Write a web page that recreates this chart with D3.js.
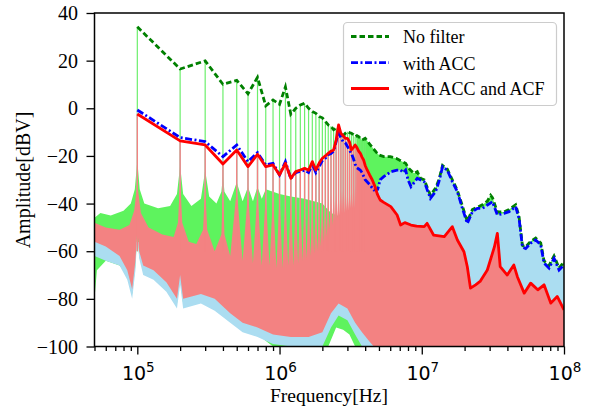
<!DOCTYPE html>
<html><head><meta charset="utf-8">
<script src="https://cdn.jsdelivr.net/npm/d3@7"></script>
<style>body{margin:0;background:#fff}</style>
</head><body>
<svg id="c" width="594" height="407"></svg>
<script>
// ---------- DATA (frequency in MHz, amplitude in dBV) ----------
const harmonicsMHz = [0.1,0.2,0.3,0.4,0.5,0.6,0.7,0.8,0.9,1.0,1.1,1.2,1.3,1.4,1.5,1.6,1.7,1.8,1.9,2.0,
  2.1,2.2,2.3,2.4,2.5,2.6,2.7,2.8,2.9,3.0,3.1,3.2,3.3,3.4,3.5,3.6,3.7,3.8,3.9,4.0];

// harmonic peak levels (envelope)
const noFilterPeaks = [34.2,16.5,19.9,10.1,11.7,6.1,13.0,1.0,3.5,1.7,9.0,-2.5,0.0,1.4,2.1,0.0,-1.4,-2.1,-3.5,-4.0,
  -5.5,-7.0,-7.5,-9.0,-8.4,-10.0,-11.9,-11.5,-10.5,-9.8,-10.2,-10.5,-11.0,-11.9,-11.5,-11.9,-12.6,-13.3,-13.0,-12.6];
const accPeaks = [-0.7,-12.3,-14.0,-20.3,-15.4,-22.4,-18.6,-23.8,-23.1,-28.0,-22.4,-29.5,-27.0,-26.5,-26.0,-27.0,-23.5,-27.0,-24.5,-22.0,
  -21.0,-19.5,-19.0,-18.0,-14.0,-9.5,-12.5,-14.0,-14.5,-16.0,-17.5,-19.0,-21.0,-23.5,-25.0,-25.5,-26.0,-27.0,-28.5,-30.0];
const accAcfPeaks = [-2.4,-13.7,-15.4,-23.4,-17.5,-24.5,-19.3,-24.5,-23.8,-28.0,-23.1,-29.4,-26.6,-25.9,-25.2,-26.0,-22.4,-25.9,-23.0,-21.0,
  -20.0,-18.9,-18.0,-17.5,-13.3,-7.0,-10.5,-11.5,-12.6,-12.6,-14.0,-17.5,-16.5,-15.4,-16.5,-18.0,-18.9,-20.5,-21.7,-24.0];

// broadband envelope above 4 MHz
const noFilterHF = [[4.3,-15.0],[4.5,-16.5],[4.8,-18.5],[5.0,-19.6],[5.4,-20.3],[6.0,-20.3],[6.6,-21.0],[7.1,-22.0],[7.7,-23.1],
  [8.1,-25.2],[8.8,-27.3],[9.3,-26.6],[9.8,-29.4],[10.4,-30.0],[11.5,-36.5],[12.5,-33.5],[13.2,-30.0],[14.0,-24.0],[15.1,-25.5],
  [16.4,-30.0],[17.8,-34.5],[19.3,-41.0],[20.9,-47.5],[22.7,-42.5],[24.6,-41.5],[26.7,-40.5],[28.9,-39.0],[30.5,-36.5],[31.4,-37.5],
  [34.0,-43.5],[37.9,-43.5],[41.1,-42.5],[45.7,-40.5],[48.3,-45.5],[51.0,-57.5],[53.8,-58.2],[58.3,-55.8],[63.2,-54.5],[68.6,-56.5],
  [72.4,-64.0],[78.5,-66.0],[85.1,-62.0],[92.3,-67.0],[100,-64.5]];
const accHF = [[4.3,-32.0],[4.6,-34.3],[4.9,-34.0],[5.1,-30.0],[5.4,-28.7],[6.1,-26.6],[6.7,-26.0],[7.1,-25.9],[7.4,-27.0],[7.7,-25.9],
  [8.0,-30.0],[8.4,-32.9],[9.3,-29.4],[10.4,-30.8],[11.5,-37.8],[12.5,-35.0],[13.2,-30.8],[14.0,-24.5],[15.1,-25.9],[16.4,-30.8],
  [17.8,-35.0],[19.3,-42.0],[20.9,-48.3],[22.7,-43.4],[24.6,-42.0],[26.7,-42.0],[28.9,-40.6],[31.4,-39.2],[34.0,-44.8],[37.9,-44.1],
  [41.1,-43.4],[45.7,-41.3],[48.3,-46.2],[51.0,-58.2],[53.8,-58.9],[58.3,-56.6],[63.2,-55.3],[68.6,-57.3],[72.4,-65.0],[78.5,-67.1],
  [85.1,-63.0],[92.3,-67.9],[100,-65.8]];
const accAcfHF = [[4.13,-25.9],[4.3,-28.0],[4.49,-30.1],[4.7,-33.0],[4.87,-36.0],[5.1,-38.5],[5.4,-39.5],[6.06,-41.3],[6.71,-44.8],
  [7.1,-49.0],[7.6,-48.0],[8.4,-49.0],[9.2,-49.5],[10.4,-49.7],[10.9,-48.3],[12.1,-53.2],[14.4,-53.9],[16.4,-49.7],[17.8,-55.3],
  [19.8,-60.2],[20.9,-66.5],[22.0,-75.5],[23.9,-74.1],[25.7,-72.7],[28.9,-67.9],[32.4,-58.2],[34.0,-52.5],[35.6,-66.5],[39.9,-70.0],
  [44.4,-65.8],[47.0,-70.7],[52.5,-77.6],[58.3,-73.4],[65.4,-76.2],[72.4,-74.1],[80.8,-81.8],[89.6,-79.0],[100,-84.6]];

// spectrum fill boundaries (noise floor tops / lower envelopes)
const noFilterFloorTop = [[0.05,-46],[0.055,-44],[0.065,-45],[0.08,-43],[0.09,-40],[0.096,-34],[0.1,-22],[0.104,-34],[0.112,-40],
  [0.14,-42],[0.17,-41],[0.19,-36],[0.2,-24],[0.21,-36],[0.24,-41],[0.28,-38],[0.3,-26],[0.32,-37],[0.36,-40],[0.39,-35],[0.4,-28],
  [0.41,-35],[0.45,-39],[0.5,-31],[0.55,-39],[0.6,-33],[0.65,-39],[0.7,-33],[0.75,-38],[0.8,-34],[0.9,-35],[1.0,-36],[1.2,-37],
  [1.5,-38],[2.0,-40],[2.3,-44],[2.8,-46],[3.45,-46]];
const noFilterFloorBottom = [[0.05,-80],[0.052,-68],[0.06,-64],[0.075,-66],[0.085,-70],[0.092,-78],[0.097,-66],[0.1,-52],
  [0.103,-62],[0.11,-68],[0.13,-70],[0.16,-75],[0.19,-82],[0.2,-72],[0.21,-82],[0.28,-80],[0.35,-82],[0.45,-88],[0.55,-92],
  [0.7,-95],[0.9,-100],[2.2,-100],[2.5,-92],[2.8,-93],[3.1,-95],[3.4,-100],[100,-100]];

const accFloorTop = [[0.05,-55],[0.1,-56],[0.3,-64],[0.6,-67],[1.0,-68],[2.0,-66],[2.5,-56],[3.0,-48],[3.4,-40]];
const accFloorBottom = [[0.05,-62],[0.06,-64],[0.075,-66],[0.085,-72],[0.092,-80],[0.097,-68],[0.1,-53],[0.103,-63],[0.11,-70],
  [0.13,-72],[0.16,-77],[0.19,-84],[0.2,-74],[0.21,-84],[0.28,-82],[0.35,-85],[0.45,-90],[0.55,-94],[0.7,-96],[0.9,-99],
  [1.2,-100],[2.0,-100],[2.3,-92],[2.6,-87],[3.0,-89],[3.4,-95],[3.8,-100],[100,-100]];

const accAcfLowTop = [[0.05,-48],[0.06,-50],[0.075,-51],[0.088,-49],[0.095,-43],[0.099,-34],[0.1,-26],[0.101,-34],[0.106,-44],
  [0.12,-50],[0.15,-53],[0.18,-54],[0.193,-48],[0.2,-30],[0.207,-48],[0.23,-56],[0.26,-57],[0.29,-51],[0.3,-32],[0.31,-51],
  [0.35,-60],[0.39,-53],[0.4,-33],[0.41,-53]];
const accAcfTroughFreqs = [0.45,0.55,0.65,0.75,0.85,0.95,1.05,1.15,1.25,1.35,1.45,1.55,1.65,1.75,1.85,1.95,2.05,2.15,2.25,2.35,
  2.45,2.55,2.65,2.75,2.85,2.95,3.05,3.15,3.25,3.35,3.45];
const accAcfTroughs = [-62,-64,-65,-66,-66,-67,-67,-66,-66,-65,-64,-63,-62,-61,-60,-58,-56,-54,-51,-49,-47,-46,-45,-44,-44,-43,-43,-42,-42,-42,-40];
const accAcfSkirtFreqs = [0.5,0.6,0.7,0.8,0.9,1.0,1.1,1.2,1.3,1.4,1.5,1.6,1.7,1.8,1.9,2.0,2.1,2.2,2.3,2.4,2.5,2.6,2.7,2.8,2.9,3.0,3.1,3.2,3.3,3.4];
const accAcfSkirts = [-34,-35,-35,-36,-36,-36,-37,-37,-37,-37,-37,-37,-37,-37,-37,-37,-37,-36,-36,-35,-35,-34,-34,-33,-33,-33,-33,-32,-32,-32];
const accAcfFloorBottom = [[0.05,-56],[0.06,-58],[0.075,-62],[0.085,-68],[0.092,-76],[0.097,-64],[0.1,-51],[0.103,-60],[0.11,-66],
  [0.13,-68],[0.16,-73],[0.19,-80],[0.2,-70],[0.21,-80],[0.28,-78],[0.35,-80],[0.45,-86],[0.55,-90],[0.7,-92],[0.9,-95],[1.2,-96],
  [1.6,-96],[2.0,-94],[2.3,-86],[2.6,-82],[3.0,-84],[3.4,-90],[3.8,-94],[4.3,-98],[4.6,-100],[100,-100]];

const yTicks = [-100,-80,-60,-40,-20,0,20,40];
const xTickMHz = [0.1,1,10,100];
const xTickExp = ["5","6","7","8"];
const legendLabels = ["No filter","with ACC","with ACC and ACF"];

// ---------- CHART ----------
const svg = d3.select("#c");
const L = 94.5, R = 564, T = 13, B = 346.5;
const x = d3.scaleLog().domain([0.05,100]).range([L,R]);
const y = d3.scaleLinear().domain([-100,40]).range([B,T]);

svg.append("defs").append("clipPath").attr("id","clip")
  .append("rect").attr("x",L).attr("y",T).attr("width",R-L).attr("height",B-T);
const g = svg.append("g").attr("clip-path","url(#clip)");

const envelope = (peaks, hf) => harmonicsMHz.map((f,i)=>[f,peaks[i]]).concat(hf);
const noFilterLine = envelope(noFilterPeaks, noFilterHF);
const accLine = envelope(accPeaks, accHF);
const accAcfLine = envelope(accAcfPeaks, accAcfHF);

const after = (line, f0) => line.filter(d=>d[0]>f0);
const greenTop = noFilterFloorTop.concat(after(noFilterLine, 3.45));
const blueTop = accFloorTop.concat(after(accLine, 3.4));
const pinkV = [];
accAcfTroughFreqs.forEach((f,i)=>{ pinkV.push([f,accAcfTroughs[i]]); if(i<accAcfSkirtFreqs.length) pinkV.push([accAcfSkirtFreqs[i],accAcfSkirts[i]]); });
const pinkTop = accAcfLowTop.concat(pinkV, after(accAcfLine, 3.45));

const lineGen = d3.line().x(d=>x(d[0])).y(d=>y(d[1]));
const band = (top,bottom) => lineGen(top.concat(bottom.slice().reverse())) + "Z";

const cGreen = "#5ef35e", cBlue = "#abddf1", cPink = "#f38282";

function spikes(peaks, color, w) {
  g.append("g").selectAll("line").data(harmonicsMHz).join("line")
    .attr("x1",d=>x(d)).attr("x2",d=>x(d))
    .attr("y1",y(-60)).attr("y2",(d,i)=>y(peaks[i]))
    .attr("stroke",color).attr("stroke-width",w);
}

g.append("path").attr("d",band(greenTop,noFilterFloorBottom)).attr("fill",cGreen);
spikes(noFilterPeaks, "#6cef6c", 1.2);
g.append("path").attr("d",band(blueTop,accFloorBottom)).attr("fill",cBlue);
spikes(accPeaks, cBlue, 1.2);
g.append("path").attr("d",band(pinkTop,accAcfFloorBottom)).attr("fill",cPink);
spikes(accAcfPeaks, cPink, 1.4);

g.append("path").attr("d",lineGen(noFilterLine)).attr("fill","none")
  .attr("stroke","#008000").attr("stroke-width",2.8).attr("stroke-dasharray","5.5,3");
g.append("path").attr("d",lineGen(accLine)).attr("fill","none")
  .attr("stroke","#0000ff").attr("stroke-width",2.8).attr("stroke-dasharray","7,2.5,2,2.5");
g.append("path").attr("d",lineGen(accAcfLine)).attr("fill","none")
  .attr("stroke","#ff0000").attr("stroke-width",2.8).attr("stroke-linejoin","round");

// axes
const xAxis = d3.axisBottom(x).tickValues(xTickMHz).tickSize(8).tickFormat("");
const minor = [];
[0.01,0.1,1,10].forEach(d=>{ for(let k=2;k<=9;k++){ const v=+(d*k).toPrecision(3); if(v>=0.05&&v<100) minor.push(v);} });
const gx = svg.append("g").attr("transform",`translate(0,${B})`);
gx.call(xAxis);
gx.append("g").call(d3.axisBottom(x).tickValues(minor).tickSize(4.5).tickFormat(""));
gx.selectAll("path.domain").remove();
gx.selectAll("line").attr("stroke","#000").attr("stroke-width",1.3);

xTickMHz.forEach((v,i)=>{
  const t = svg.append("text").attr("x",x(v)+1).attr("y",380).attr("text-anchor","middle")
    .attr("font-family","DejaVu Sans").attr("font-size",19).attr("fill","#000");
  t.append("tspan").text("10");
  t.append("tspan").attr("font-size",13.5).attr("dy",-8.5).text(xTickExp[i]);
});

const gy = svg.append("g").attr("transform",`translate(${L},0)`);
gy.call(d3.axisLeft(y).tickValues(yTicks).tickSize(8).tickFormat(""));
gy.selectAll("path.domain").remove();
gy.selectAll("line").attr("stroke","#000").attr("stroke-width",1.3);
yTicks.forEach(v=>{
  svg.append("text").attr("x",78).attr("y",y(v)+7).attr("text-anchor","end")
    .attr("font-family","Liberation Serif").attr("font-size",20).attr("fill","#000")
    .text(v<0 ? "\u2212"+Math.abs(v) : String(v));
});

svg.append("rect").attr("x",L).attr("y",T).attr("width",R-L).attr("height",B-T)
  .attr("fill","none").attr("stroke","#000").attr("stroke-width",1.5);

svg.append("text").attr("x",329).attr("y",402).attr("text-anchor","middle")
  .attr("font-family","Liberation Serif").attr("font-size",19.5).text("Frequency[Hz]");
svg.append("text").attr("transform","translate(30,180) rotate(-90)").attr("text-anchor","middle")
  .attr("font-family","Liberation Serif").attr("font-size",20).text("Amplitude[dBV]");

// legend
const lg = svg.append("g");
lg.append("rect").attr("x",343.5).attr("y",22.5).attr("width",213).attr("height",83).attr("rx",4)
  .attr("fill","#fff").attr("fill-opacity",0.85).attr("stroke","#cccccc").attr("stroke-width",1.2);
const styles = [
  {c:"#008000",dash:"5.5,3"},{c:"#0000ff",dash:"7,2.5,2,2.5"},{c:"#ff0000",dash:null}];
const ly = [36.5,62.7,88.5];
legendLabels.forEach((lab,i)=>{
  const ln = lg.append("line").attr("x1",351).attr("x2",389).attr("y1",ly[i]).attr("y2",ly[i])
    .attr("stroke",styles[i].c).attr("stroke-width",2.8);
  if(styles[i].dash) ln.attr("stroke-dasharray",styles[i].dash);
  lg.append("text").attr("x",403).attr("y",ly[i]+6.8).attr("font-family","Liberation Serif")
    .attr("font-size",18).text(lab);
});
</script>
</body></html>
